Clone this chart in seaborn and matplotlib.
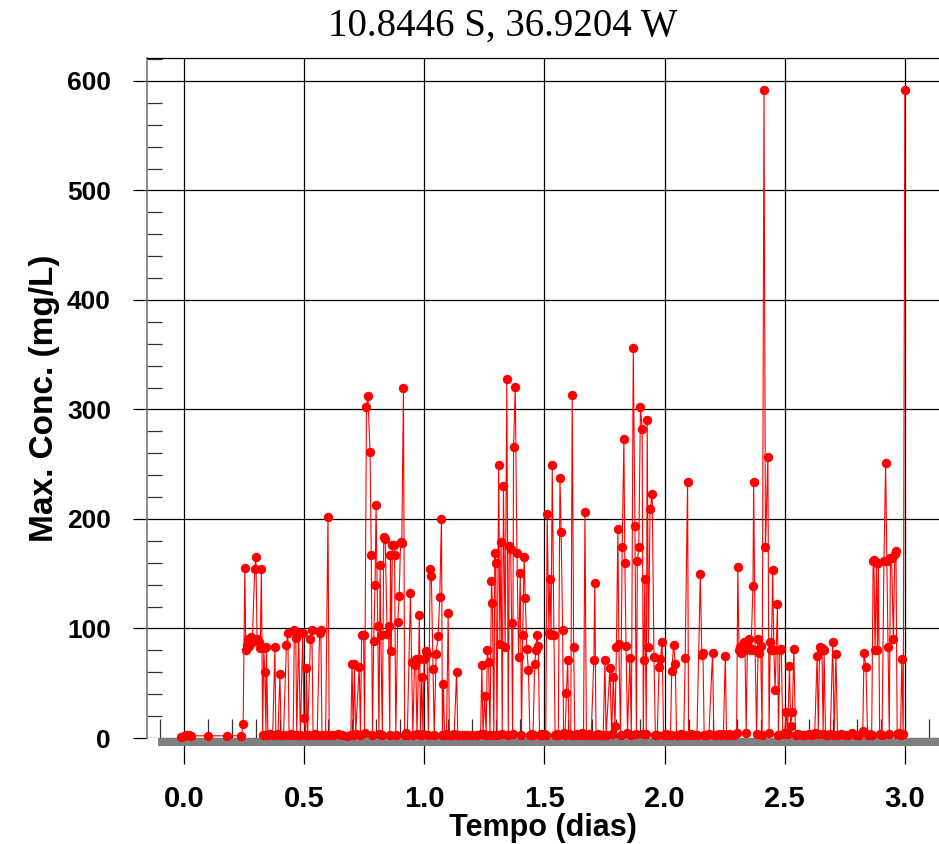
import numpy as np
import pandas as pd
import matplotlib
matplotlib.use("Agg")
import matplotlib.pyplot as plt
import seaborn as sns
from matplotlib.patches import Rectangle
from matplotlib.ticker import MultipleLocator, FormatStrFormatter

# (tempo em dias, concentracao maxima mg/L)
seg_0 = [(-0.01, 1), (0.0, 2), (0.01, 3), (0.02, 3), (0.03, 2), (0.10, 2), (0.18, 2), (0.240, 2)]
seg_1 = [(0.247, 13), (0.254, 155), (0.258, 80), (0.262, 85), (0.268, 90), (0.272, 84),
         (0.278, 92), (0.285, 88), (0.295, 154), (0.300, 165), (0.305, 90), (0.312, 88),
         (0.318, 82), (0.323, 154), (0.328, 3), (0.333, 82), (0.337, 60), (0.342, 3),
         (0.344, 83), (0.350, 3), (0.360, 4), (0.370, 3), (0.379, 83), (0.383, 3),
         (0.392, 4), (0.400, 58), (0.405, 3), (0.415, 3), (0.427, 85), (0.433, 96),
         (0.438, 3), (0.446, 4), (0.455, 3), (0.460, 99), (0.466, 91), (0.470, 3),
         (0.478, 96), (0.485, 3), (0.495, 96), (0.500, 18)]
seg_2 = [(0.507, 3), (0.510, 64), (0.515, 3), (0.527, 90), (0.533, 99), (0.538, 3),
         (0.545, 4), (0.555, 3), (0.565, 96), (0.570, 99), (0.575, 3), (0.590, 3),
         (0.600, 202), (0.605, 3), (0.620, 3), (0.640, 4), (0.660, 3), (0.680, 2),
         (0.695, 3), (0.700, 68), (0.705, 3), (0.710, 68), (0.715, 4), (0.730, 65),
         (0.735, 3), (0.740, 94), (0.748, 94), (0.752, 5)]
seg_3 = [(0.760, 302), (0.766, 312), (0.775, 261), (0.780, 167), (0.785, 3), (0.790, 89),
         (0.796, 140), (0.800, 213), (0.807, 102), (0.812, 4), (0.817, 158), (0.820, 94),
         (0.826, 3), (0.832, 184), (0.838, 182), (0.846, 95), (0.852, 102), (0.857, 3),
         (0.860, 167), (0.863, 79), (0.868, 176), (0.873, 176), (0.877, 167), (0.882, 3),
         (0.890, 106), (0.896, 130), (0.902, 179), (0.907, 178), (0.914, 320), (0.919, 3),
         (0.925, 5), (0.930, 3), (0.943, 132), (0.948, 69), (0.953, 3), (0.960, 67),
         (0.965, 72), (0.970, 4), (0.977, 72), (0.980, 112), (0.985, 3), (0.990, 56),
         (0.995, 4)]
seg_4 = [(1.000, 72), (1.007, 79), (1.012, 77), (1.018, 3), (1.025, 154), (1.030, 148),
         (1.037, 63), (1.042, 3), (1.050, 77), (1.058, 93), (1.065, 129), (1.072, 200),
         (1.076, 3), (1.080, 49), (1.085, 3), (1.093, 4), (1.100, 114), (1.105, 3),
         (1.115, 3), (1.125, 4), (1.135, 60), (1.140, 3), (1.160, 3), (1.180, 3),
         (1.200, 3), (1.220, 3), (1.235, 4)]
seg_5 = [(1.240, 67), (1.245, 4), (1.252, 38), (1.258, 3), (1.263, 80), (1.268, 69),
         (1.274, 3), (1.280, 143), (1.284, 123), (1.290, 3), (1.294, 169), (1.298, 160),
         (1.303, 3), (1.310, 249), (1.315, 86), (1.320, 179), (1.325, 4), (1.330, 230),
         (1.337, 83), (1.344, 328), (1.350, 3), (1.354, 175), (1.360, 173), (1.364, 105),
         (1.368, 4), (1.372, 266), (1.379, 321), (1.386, 169), (1.393, 74), (1.400, 151),
         (1.405, 3), (1.410, 94), (1.416, 165), (1.421, 128), (1.427, 81), (1.434, 62),
         (1.440, 3), (1.447, 4), (1.453, 3), (1.460, 68), (1.465, 80), (1.469, 94),
         (1.475, 84), (1.480, 3), (1.487, 4), (1.494, 3), (1.500, 4), (1.506, 3)]
seg_6 = [(1.512, 205), (1.519, 96), (1.523, 145), (1.528, 94), (1.533, 249), (1.540, 94),
         (1.545, 3), (1.552, 4), (1.558, 3), (1.565, 237), (1.570, 188), (1.576, 99),
         (1.580, 5), (1.586, 3), (1.592, 41), (1.597, 71), (1.603, 4), (1.610, 3),
         (1.616, 313), (1.622, 83), (1.627, 3), (1.635, 4), (1.645, 3), (1.655, 5),
         (1.663, 3), (1.669, 206), (1.675, 3), (1.685, 4), (1.695, 3), (1.706, 71),
         (1.710, 142), (1.715, 3), (1.725, 4), (1.735, 3), (1.745, 3), (1.752, 71),
         (1.757, 3), (1.773, 64), (1.780, 4), (1.787, 56), (1.794, 11)]
seg_7 = [(1.800, 83), (1.806, 191), (1.810, 86), (1.817, 3), (1.824, 174), (1.831, 273),
         (1.835, 160), (1.840, 84), (1.846, 5), (1.856, 73), (1.862, 3), (1.870, 356),
         (1.877, 194), (1.883, 4), (1.887, 162), (1.893, 174), (1.900, 302), (1.907, 282),
         (1.912, 4), (1.914, 71), (1.918, 145), (1.924, 4), (1.928, 290), (1.933, 83),
         (1.940, 209), (1.949, 223), (1.956, 74), (1.962, 3), (1.970, 3), (1.977, 65),
         (1.983, 72), (1.990, 88), (1.996, 3)]
seg_8 = [(2.005, 4), (2.015, 3), (2.025, 3), (2.030, 61), (2.038, 85), (2.045, 68),
         (2.050, 3), (2.060, 3), (2.070, 4), (2.080, 3), (2.086, 73), (2.096, 234),
         (2.100, 3), (2.110, 4), (2.120, 3), (2.135, 3), (2.149, 150), (2.155, 76),
         (2.160, 78), (2.165, 3), (2.175, 3), (2.185, 4), (2.200, 78), (2.205, 3),
         (2.215, 3), (2.225, 4), (2.235, 3), (2.245, 4), (2.253, 75), (2.258, 3),
         (2.270, 4), (2.280, 3), (2.290, 3), (2.300, 5)]
seg_9 = [(2.305, 156), (2.310, 80), (2.315, 83), (2.320, 78), (2.325, 85), (2.330, 88),
         (2.335, 80), (2.340, 5), (2.345, 86), (2.350, 90), (2.355, 82), (2.360, 80),
         (2.368, 139), (2.371, 234), (2.377, 80), (2.383, 4), (2.390, 90), (2.395, 78),
         (2.400, 84), (2.406, 3), (2.414, 592), (2.420, 174), (2.430, 257), (2.435, 5),
         (2.440, 88), (2.445, 80), (2.450, 153), (2.455, 80), (2.460, 44), (2.470, 122),
         (2.474, 3), (2.480, 80), (2.486, 81), (2.492, 4), (2.500, 5), (2.506, 24),
         (2.512, 4), (2.520, 66), (2.525, 11), (2.532, 24), (2.538, 81)]
seg_10 = [(2.545, 3), (2.555, 4), (2.570, 3), (2.585, 3), (2.600, 4), (2.615, 3),
          (2.625, 5), (2.635, 75), (2.640, 4), (2.645, 83), (2.650, 80), (2.655, 82),
          (2.660, 4), (2.664, 80), (2.670, 3), (2.680, 3), (2.690, 4), (2.700, 88),
          (2.706, 3), (2.713, 77), (2.720, 3), (2.735, 4), (2.750, 3), (2.765, 3),
          (2.780, 5), (2.795, 3), (2.810, 3), (2.825, 6)]
seg_11 = [(2.830, 78), (2.838, 65), (2.845, 3), (2.855, 4), (2.862, 3), (2.868, 162),
          (2.871, 163), (2.876, 80), (2.882, 160), (2.886, 80), (2.890, 160), (2.895, 4),
          (2.905, 3), (2.913, 162), (2.920, 251), (2.925, 162), (2.930, 83), (2.935, 4),
          (2.940, 164), (2.945, 164), (2.952, 90), (2.958, 168), (2.963, 171), (2.968, 4),
          (2.975, 5), (2.982, 3), (2.987, 72), (2.993, 4), (3.000, 592)]

pontos = seg_0 + seg_1 + seg_2 + seg_3 + seg_4 + seg_5 + seg_6 + seg_7 + seg_8 + seg_9 + seg_10 + seg_11
df = pd.DataFrame(pontos, columns=["tempo", "conc"])

titulo = "10.8446 S, 36.9204 W"

sns.set_style("white")
plt.rcParams["font.family"] = ["Liberation Sans", "DejaVu Sans"]
plt.rcParams["text.color"] = "black"
plt.rcParams["axes.labelcolor"] = "black"
plt.rcParams["xtick.color"] = "black"
plt.rcParams["ytick.color"] = "black"

fig = plt.figure(figsize=(9.39, 8.44), dpi=100)
ax = fig.add_axes([147 / 939, 1 - 738 / 844, 1 - 147 / 939, (738 - 58) / 844])

sns.lineplot(data=df, x="tempo", y="conc", sort=False, estimator=None,
             color="red", linewidth=0.8, marker="o", markersize=6,
             markeredgecolor="red", markerfacecolor="red", ax=ax, clip_on=False, zorder=3)

ax.set_xlim(-0.153, 3.142)
ax.set_ylim(0, 621)

# faixa cinza no zero
ax.add_patch(Rectangle((-0.108, -7.5), 3.3, 7.5, facecolor="#808080", edgecolor="none",
                       clip_on=False, zorder=1))

ax.xaxis.set_major_locator(MultipleLocator(0.5))
ax.xaxis.set_minor_locator(MultipleLocator(0.1))
ax.xaxis.set_major_formatter(FormatStrFormatter("%.1f"))
ax.yaxis.set_major_locator(MultipleLocator(100))
ax.yaxis.set_minor_locator(MultipleLocator(20))
ax.grid(True, which="major", color="black", linewidth=0.9)

for s in ["bottom", "right"]:
    ax.spines[s].set_visible(False)
ax.spines["top"].set_color("black")
ax.spines["top"].set_linewidth(0.9)
ax.spines["left"].set_color("#777777")
ax.spines["left"].set_linewidth(1.2)

ax.tick_params(axis="x", which="major", direction="out", length=19, width=0.9,
               color="black", pad=15, labelsize=21, bottom=True)
ax.tick_params(axis="x", which="minor", direction="in", length=14, width=0.9,
               color="#333333", bottom=True)
ax.tick_params(axis="y", which="major", direction="out", length=10, width=0.9,
               color="black", pad=16, labelsize=19, left=True)
ax.tick_params(axis="y", which="minor", direction="in", length=11, width=0.9,
               color="#333333", left=True)
for lab in ax.get_xticklabels():
    lab.set_fontweight("bold")
for lab in ax.get_yticklabels():
    lab.set_fontweight("bold")

ax.set_xlabel("Tempo (dias)", fontsize=22, fontweight="bold", labelpad=0)
ax.set_ylabel("Max. Conc. (mg/L)", fontsize=24, fontweight="bold", labelpad=5)

fig.text(503 / 939, 1 - 26 / 844, titulo, ha="center", va="center", fontsize=28,
         family=["Liberation Serif", "DejaVu Serif"])

fig.savefig("out.png", dpi=100)
